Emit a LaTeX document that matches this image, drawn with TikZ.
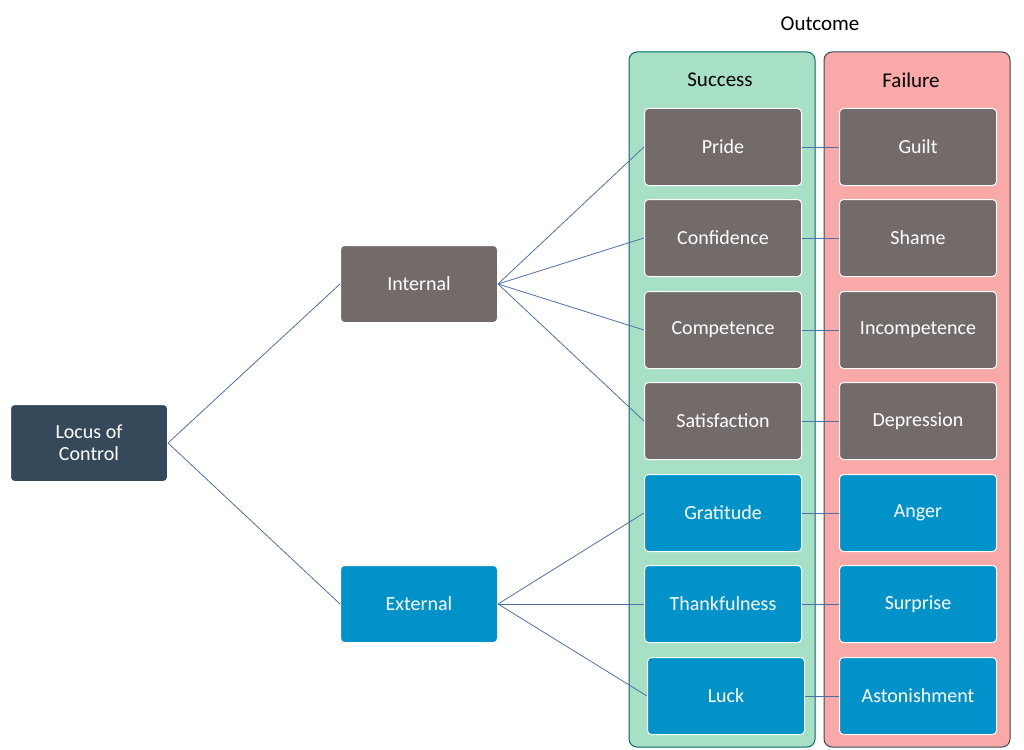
\documentclass[tikz,border=0pt]{standalone}
\usepackage{fontspec}
\setmainfont{Carlito}
\begin{document}
\begin{tikzpicture}[x=1pt,y=-1pt,
 box/.style={rounded corners=4pt,draw=white,line width=1pt,minimum width=157pt,minimum height=77pt,text=white,font=\fontsize{20}{22}\selectfont,align=center},
 gbox/.style={box,fill=gray1},
 bbox/.style={box,fill=blue1},
 col/.style={rounded corners=8pt,line width=1pt},
 ln/.style={draw=lineblue,line width=0.8pt}]
\definecolor{gray1}{HTML}{736B6A}
\definecolor{blue1}{HTML}{0092C8}
\definecolor{dark1}{HTML}{35495A}
\definecolor{lineblue}{HTML}{4F6FA8}
\definecolor{greenf}{HTML}{A8E0C6}
\definecolor{pinkf}{HTML}{F9A9A8}
\useasboundingbox (0,0) rectangle (1024,749);
\draw[col,fill=greenf,draw=teal!80!black] (629,52) rectangle (815,747);
\draw[col,fill=pinkf,draw=dark1] (824,52) rectangle (1010,747);
\node[font=\fontsize{21}{24}\selectfont] (out) at (820,24) {Outcome};
\node[font=\fontsize{21}{24}\selectfont] (succ) at (720,80) {Success};
\node[font=\fontsize{21}{24}\selectfont] (fail) at (911,80) {Failure};
\node[box,fill=dark1] (loc) at (89,443) {Locus of\\Control};
\node[gbox] (int) at (419,284) {Internal};
\node[bbox] (ext) at (419,604) {External};
\foreach \n/\t/\y in {s1/Pride/147,s2/Confidence/238,s3/Competence/330,s4/Satisfaction/421}
  \node[gbox] (\n) at (723,\y) {\t};
\node[bbox] (s5) at (723,513) {Gratitude};
\node[bbox] (s6) at (723,604) {Thankfulness};
\node[bbox] (s7) at (726,696) {Luck};
\foreach \n/\t/\y in {f1/Guilt/147,f2/Shame/238,f3/Incompetence/330,f4/Depression/421}
  \node[gbox] (\n) at (918,\y) {\t};
\node[bbox] (f5) at (918,513) {Anger};
\node[bbox] (f6) at (918,604) {Surprise};
\node[bbox] (f7) at (918,696) {Astonishment};
\draw[ln] (loc.east) -- (int.west);
\draw[ln] (loc.east) -- (ext.west);
\foreach \s in {s1,s2,s3,s4} \draw[ln] (int.east) -- (\s.west);
\foreach \s in {s5,s6,s7} \draw[ln] (ext.east) -- (\s.west);
\foreach \i in {1,...,7} \draw[ln] (s\i.east) -- (f\i.west);
\end{tikzpicture}
\end{document}
